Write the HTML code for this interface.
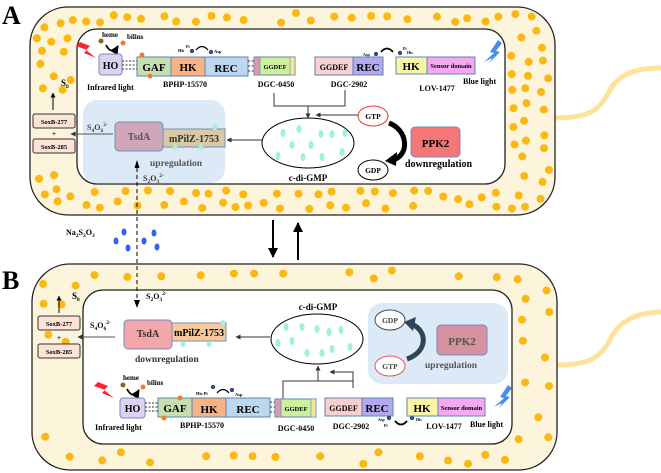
<!DOCTYPE html>
<html><head><meta charset="utf-8"><style>
html,body{margin:0;padding:0;background:#fff;width:661px;height:473px;overflow:hidden}
svg{display:block;font-family:"Liberation Serif",serif;font-weight:bold}
</style></head><body>
<svg id="s" width="661" height="473" viewBox="0 0 661 473" xmlns="http://www.w3.org/2000/svg">
<defs>
<marker id="ar" viewBox="0 0 10 10" refX="9" refY="5" markerWidth="5" markerHeight="5" orient="auto"><path d="M0,0L10,5L0,10z" fill="#000"/></marker>
<marker id="ag" viewBox="0 0 10 10" refX="9" refY="5" markerWidth="5" markerHeight="5" orient="auto"><path d="M0,0L10,5L0,10z" fill="#333"/></marker>
</defs>
<path d="M555,118 C590,118 600,110 610,90 C620,72 640,68 661,68" fill="none" stroke="#fde39a" stroke-width="5"/>
<path d="M557,365 C592,365 602,356 612,336 C622,318 642,312 661,312" fill="none" stroke="#fde39a" stroke-width="5"/>
<rect x="30" y="7" width="525" height="208" rx="38" fill="#fdf4dc" stroke="#222" stroke-width="1.3"/>
<rect x="77" y="29" width="428" height="155" rx="20" fill="#fff" stroke="#222" stroke-width="1.3"/>
<rect x="32" y="264" width="525" height="206" rx="38" fill="#fdf4dc" stroke="#222" stroke-width="1.3"/>
<rect x="83" y="290" width="429" height="154" rx="20" fill="#fff" stroke="#222" stroke-width="1.3"/>
<g id="dots" fill="#fbb812"></g>

<text x="2" y="24" font-size="26">A</text>
<text x="2" y="289" font-size="26">B</text>

<rect x="83" y="100" width="142" height="83" rx="14" fill="#dce9f6"/>
<path d="M80,42 L90,46 L86,50 L96,58 L84,53 L87,50 L76,46z" fill="#f23"/>
<circle cx="101" cy="41" r="2.5" fill="#8b6914"/><circle cx="123" cy="43" r="2.5" fill="#f07c30"/>
<text x="102" y="37" font-size="7">heme</text><text x="127" y="39" font-size="7">bilins</text>
<path d="M106,45 Q112,56 118,46" fill="none" stroke="#000" stroke-width="1.8" marker-end="url(#ar)"/>
<rect x="99" y="54" width="23" height="21" rx="3" fill="#dcd3f3" stroke="#6f8fb8"/>
<text x="110.5" y="69" font-size="10" text-anchor="middle">HO</text>
<g stroke="#333" stroke-dasharray="2,1.5"><line x1="122" y1="61" x2="137" y2="61"/><line x1="122" y1="65" x2="137" y2="65"/><line x1="122" y1="69" x2="137" y2="69"/></g>
<rect x="137" y="57" width="34" height="19" fill="#c6dfb2" stroke="#5b86b0"/>
<rect x="171" y="57" width="34" height="19" fill="#f5b386" stroke="#5b86b0"/>
<rect x="205" y="57" width="43" height="19" fill="#bdd7ee" stroke="#5b86b0"/>
<text x="154" y="71" font-size="11" text-anchor="middle">GAF</text><text x="188" y="71" font-size="11" text-anchor="middle">HK</text><text x="226" y="72" font-size="11" text-anchor="middle">REC</text>
<circle cx="142" cy="55" r="2.5" fill="#f07c30"/><circle cx="150" cy="76" r="2.5" fill="#f07c30"/>
<text x="178" y="52" font-size="4.5">Hb</text><text x="186" y="48" font-size="4">Pi</text>
<circle cx="192" cy="51" r="1.8" fill="#2a5fb0" stroke="#000" stroke-width=".5"/><circle cx="211" cy="52" r="1.8" fill="#2a5fb0" stroke="#000" stroke-width=".5"/>
<path d="M196,50 Q202,43 208,50" fill="none" stroke="#000" stroke-width="1.2"/>
<text x="214" y="53" font-size="4.5">Asp</text>
<g stroke="#333" stroke-dasharray="2,1.5"><line x1="248" y1="61" x2="254" y2="61"/><line x1="248" y1="66" x2="254" y2="66"/><line x1="248" y1="71" x2="254" y2="71"/></g>
<rect x="254" y="57" width="41" height="18" fill="#cdf09c" stroke="#5b86b0"/>
<rect x="254" y="57" width="6" height="18" fill="#d79ab0" stroke="#5b86b0" stroke-width=".6"/>
<rect x="290" y="57" width="5" height="18" fill="#f3e49a" stroke="#5b86b0" stroke-width=".6"/>
<text x="275" y="69" font-size="6.5" text-anchor="middle">GGDEF</text>
<text x="87" y="90" font-size="8">Infrared light</text>
<text x="185" y="87" font-size="8" text-anchor="middle">BPHP-15570</text>
<text x="276" y="87" font-size="8" text-anchor="middle">DGC-0450</text>
<rect x="315" y="57" width="38" height="18" fill="#f8d0cf" stroke="#5b86b0"/>
<rect x="353" y="57" width="30" height="18" fill="#b4a8f0" stroke="#5b86b0"/>
<text x="334" y="70" font-size="8" text-anchor="middle">GGDEF</text><text x="368" y="71" font-size="11" text-anchor="middle">REC</text>
<text x="349" y="87" font-size="8" text-anchor="middle">DGC-2902</text>
<text x="363" y="56" font-size="4">Asp</text><circle cx="376" cy="54" r="1.8" fill="#2a5fb0" stroke="#000" stroke-width=".5"/>
<path d="M381,52 Q387,45 393,52" fill="none" stroke="#000" stroke-width="1.8"/>
<circle cx="400" cy="53" r="1.8" fill="#2a5fb0" stroke="#000" stroke-width=".5"/><text x="403" y="50" font-size="4">Pi</text><text x="407" y="54" font-size="4">His</text>
<rect x="396" y="57" width="31" height="17" fill="#fbf5a6" stroke="#5b86b0"/>
<rect x="427" y="57" width="48" height="17" fill="#f6a8f3" stroke="#5b86b0"/>
<text x="411" y="70" font-size="11" text-anchor="middle">HK</text><text x="451" y="68" font-size="6.5" text-anchor="middle">Sensor domain</text>
<path d="M498,40 L490,52 L494,53 L484,62 L492,58 L489,63 L500,52 L496,51 L502,43z" fill="#4a8ee6"/>
<text x="437" y="91" font-size="8" text-anchor="middle">LOV-1477</text>
<text x="463" y="84" font-size="8">Blue light</text>
<polyline points="274,93 274,106 345,106 345,90" fill="none" stroke="#333" stroke-width="1"/>
<line x1="308" y1="106" x2="308" y2="118" stroke="#333" marker-end="url(#ag)"/>
<line x1="358" y1="115" x2="316" y2="115" stroke="#333" marker-end="url(#ag)"/>
<ellipse cx="308" cy="143" rx="46" ry="25" fill="#fff" stroke="#000"/>
<g fill="#9ef2d9"><ellipse cx="299" cy="129" rx="2.5" ry="4"/><ellipse cx="321" cy="134" rx="2.5" ry="4"/><ellipse cx="332" cy="134" rx="2.5" ry="4"/><ellipse cx="311" cy="145" rx="2.5" ry="4"/><ellipse cx="292" cy="145" rx="2.5" ry="4"/><ellipse cx="303" cy="157" rx="2.5" ry="4"/><ellipse cx="322" cy="157" rx="2.5" ry="4"/><ellipse cx="342" cy="152" rx="2.5" ry="4"/><ellipse cx="283" cy="133" rx="2.5" ry="4"/><ellipse cx="278" cy="156" rx="2.5" ry="4"/><ellipse cx="345" cy="133" rx="2.5" ry="4"/></g>
<text x="308" y="181" font-size="9" text-anchor="middle">c-di-GMP</text>
<ellipse cx="373" cy="116" rx="15" ry="10" fill="#fff" stroke="#e33"/>
<text x="373" y="119" font-size="7.5" text-anchor="middle">GTP</text>
<ellipse cx="373" cy="170" rx="15" ry="10" fill="#fff" stroke="#000"/>
<text x="373" y="173" font-size="7.5" text-anchor="middle">GDP</text>
<path d="M389,123 C408,130 410,155 393,160" fill="none" stroke="#000" stroke-width="5"/>
<path d="M385,161 L397,152 L396,166z" fill="#000"/>
<rect x="411" y="127" width="49" height="30" rx="4" fill="#f47676" stroke="#6f8fb8"/>
<text x="435.5" y="147" font-size="11" text-anchor="middle">PPK2</text>
<text x="405" y="167" font-size="10">downregulation</text>
<rect x="115" y="122" width="48" height="29" rx="4" fill="#cfa6ba" stroke="#6f8fb8"/>
<rect x="163" y="129" width="62" height="18" fill="#d9c9a5" stroke="#6f8fb8"/>
<text x="139" y="140" font-size="10" text-anchor="middle" fill="#555">TsdA</text>
<text x="194" y="142" font-size="10" text-anchor="middle" fill="#333">mPilZ-1753</text>
<g fill="#a8efdc"><ellipse cx="215" cy="127" rx="2.5" ry="3"/><ellipse cx="175" cy="147" rx="2.5" ry="3"/><ellipse cx="201" cy="147" rx="2.5" ry="3"/></g>
<text x="150" y="166" font-size="9.5" fill="#555">upregulation</text>
<line x1="262" y1="140" x2="227" y2="140" stroke="#333" marker-end="url(#ag)"/>
<text x="87" y="130" font-size="8" fill="#444">S<tspan font-size="5.5" dy="2">4</tspan><tspan dy="-2">O</tspan><tspan font-size="5.5" dy="2">6</tspan><tspan font-size="5.5" dy="-6">2-</tspan></text>
<line x1="113" y1="134" x2="71" y2="134" stroke="#555" marker-end="url(#ag)"/>
<rect x="33" y="114" width="42" height="14" rx="2" fill="#fde3d6" stroke="#333"/>
<rect x="33" y="139" width="42" height="14" rx="2" fill="#fde3d6" stroke="#333"/>
<text x="54" y="124" font-size="6.5" text-anchor="middle">SoxB-277</text><text x="54" y="136" font-size="7" text-anchor="middle">+</text><text x="54" y="149" font-size="6.5" text-anchor="middle">SoxB-285</text>
<line x1="53" y1="110" x2="53" y2="93" stroke="#000" marker-end="url(#ar)"/>
<text x="61" y="86" font-size="9">S<tspan font-size="5.5" dy="2">8</tspan></text>
<text x="143" y="181" font-size="8" fill="#333">S<tspan font-size="5.5" dy="2">2</tspan><tspan dy="-2">O</tspan><tspan font-size="5.5" dy="2">3</tspan><tspan font-size="5.5" dy="-6">2-</tspan></text>
<line x1="137" y1="305" x2="137" y2="161" stroke="#000" stroke-dasharray="4,3"/>
<path d="M134.5,168 L137,160 L139.5,168z" fill="#000"/>
<path d="M134,300 L137,308 L140,300z" fill="#000"/>
<text x="66" y="235" font-size="8">Na<tspan font-size="5.5" dy="2">2</tspan><tspan dy="-2">S</tspan><tspan font-size="5.5" dy="2">2</tspan><tspan dy="-2">O</tspan><tspan font-size="5.5" dy="2">3</tspan></text>
<g fill="#2e62f0"><ellipse cx="124" cy="232" rx="2.5" ry="3.5"/><ellipse cx="154" cy="233" rx="2.5" ry="3.5"/><ellipse cx="116" cy="241" rx="2.5" ry="3.5"/><ellipse cx="128" cy="248" rx="2.5" ry="3.5"/><ellipse cx="144" cy="241" rx="2.5" ry="3.5"/><ellipse cx="157" cy="247" rx="2.5" ry="3.5"/></g>
<line x1="273" y1="220" x2="273" y2="257" stroke="#000" stroke-width="2" marker-end="url(#ar)"/>
<line x1="298" y1="260" x2="298" y2="223" stroke="#000" stroke-width="2" marker-end="url(#ar)"/>

<rect x="368" y="303" width="140" height="81" rx="14" fill="#dce9f6"/>
<text x="72" y="299" font-size="9">S<tspan font-size="5.5" dy="2">8</tspan></text>
<line x1="59" y1="313" x2="59" y2="296" stroke="#000" marker-end="url(#ar)"/>
<rect x="38" y="316" width="42" height="14" rx="2" fill="#fde3d6" stroke="#333"/>
<rect x="38" y="344" width="42" height="14" rx="2" fill="#fde3d6" stroke="#333"/>
<text x="59" y="326" font-size="6.5" text-anchor="middle">SoxB-277</text><text x="59" y="340" font-size="7" text-anchor="middle">+</text><text x="59" y="354" font-size="6.5" text-anchor="middle">SoxB-285</text>
<text x="90" y="328" font-size="8">S<tspan font-size="5.5" dy="2">4</tspan><tspan dy="-2">O</tspan><tspan font-size="5.5" dy="2">6</tspan><tspan font-size="5.5" dy="-6">2-</tspan></text>
<line x1="115" y1="337" x2="78" y2="337" stroke="#555" marker-end="url(#ag)"/>
<text x="146" y="299" font-size="8">S<tspan font-size="5.5" dy="2">2</tspan><tspan dy="-2">O</tspan><tspan font-size="5.5" dy="2">3</tspan><tspan font-size="5.5" dy="-6">2-</tspan></text>
<rect x="124" y="320" width="48" height="29" rx="4" fill="#f4a7ab" stroke="#6f8fb8"/>
<rect x="172" y="323" width="54" height="18" fill="#f8c99b" stroke="#6f8fb8"/>
<text x="148" y="337" font-size="10" text-anchor="middle" fill="#333">TsdA</text>
<text x="199" y="336" font-size="10" text-anchor="middle">mPilZ-1753</text>
<g fill="#a8efdc"><ellipse cx="223" cy="323" rx="2.5" ry="3"/><ellipse cx="183" cy="344" rx="2.5" ry="3"/><ellipse cx="209" cy="344" rx="2.5" ry="3"/></g>
<text x="135" y="362" font-size="9.5" fill="#333">downregulation</text>
<line x1="270" y1="337" x2="236" y2="337" stroke="#333" marker-end="url(#ag)"/>
<ellipse cx="317" cy="339" rx="46" ry="25" fill="#fff" stroke="#000"/>
<g fill="#9ef2d9"><ellipse cx="302" cy="327" rx="2.5" ry="4"/><ellipse cx="317" cy="329" rx="2.5" ry="4"/><ellipse cx="329" cy="332" rx="2.5" ry="4"/><ellipse cx="341" cy="330" rx="2.5" ry="4"/><ellipse cx="292" cy="341" rx="2.5" ry="4"/><ellipse cx="307" cy="353" rx="2.5" ry="4"/><ellipse cx="322" cy="353" rx="2.5" ry="4"/><ellipse cx="332" cy="349" rx="2.5" ry="4"/><ellipse cx="350" cy="347" rx="2.5" ry="4"/><ellipse cx="278" cy="343" rx="2.5" ry="4"/><ellipse cx="286" cy="327" rx="2.5" ry="4"/></g>
<text x="318" y="310" font-size="9" text-anchor="middle">c-di-GMP</text>
<ellipse cx="390" cy="320" rx="15" ry="10" fill="#fff" stroke="#3a4a5a"/>
<text x="390" y="323" font-size="7.5" text-anchor="middle" fill="#444">GDP</text>
<ellipse cx="390" cy="366" rx="15" ry="10" fill="#fff" stroke="#e55"/>
<text x="390" y="369" font-size="7.5" text-anchor="middle" fill="#444">GTP</text>
<path d="M407,359 C428,352 428,330 411,324" fill="none" stroke="#2f4454" stroke-width="5"/>
<path d="M404,322 L416,317 L413,331z" fill="#2f4454"/>
<rect x="437" y="325" width="50" height="30" rx="4" fill="#d4939f" stroke="#6f8fb8"/>
<text x="462" y="345" font-size="11" text-anchor="middle" fill="#555">PPK2</text>
<text x="425" y="368" font-size="9.5" fill="#555">upregulation</text>
<polyline points="283,400 283,381 353,381 353,388" fill="none" stroke="#333"/>
<line x1="318" y1="381" x2="318" y2="366" stroke="#333" marker-end="url(#ag)"/>
<polyline points="353,388 353,372 330,372" fill="none" stroke="#333" marker-end="url(#ag)"/>
<path d="M98,382 L108,386 L104,390 L114,398 L102,393 L105,390 L94,386z" fill="#f23"/>
<circle cx="123" cy="385" r="2.5" fill="#8b6914"/><circle cx="143" cy="387" r="2.5" fill="#f07c30"/>
<text x="123" y="380" font-size="7">heme</text><text x="147" y="385" font-size="7">bilins</text>
<path d="M127,389 Q133,400 139,390" fill="none" stroke="#000" stroke-width="1.8" marker-end="url(#ar)"/>
<rect x="120" y="398" width="25" height="20" rx="3" fill="#dcd3f3" stroke="#6f8fb8"/>
<text x="132.5" y="412" font-size="10" text-anchor="middle">HO</text>
<g stroke="#333" stroke-dasharray="2,1.5"><line x1="145" y1="403" x2="158" y2="403"/><line x1="145" y1="407" x2="158" y2="407"/><line x1="145" y1="411" x2="158" y2="411"/></g>
<rect x="158" y="398" width="34" height="19" fill="#c6dfb2" stroke="#5b86b0"/>
<rect x="192" y="398" width="34" height="19" fill="#f5b386" stroke="#5b86b0"/>
<rect x="226" y="398" width="44" height="19" fill="#bdd7ee" stroke="#5b86b0"/>
<text x="175" y="412" font-size="11" text-anchor="middle">GAF</text><text x="209" y="413" font-size="11" text-anchor="middle">HK</text><text x="248" y="413" font-size="11" text-anchor="middle">REC</text>
<circle cx="180" cy="398" r="2.5" fill="#f07c30"/><circle cx="164" cy="418" r="2.5" fill="#f07c30"/>
<text x="196" y="395" font-size="4.5">His Pi</text>
<circle cx="213" cy="387" r="1.8" fill="#2a5fb0" stroke="#000" stroke-width=".5"/><circle cx="232" cy="390" r="1.8" fill="#2a5fb0" stroke="#000" stroke-width=".5"/>
<path d="M217,393 Q223,386 229,393" fill="none" stroke="#000" stroke-width="1.2"/>
<text x="235" y="396" font-size="4.5">Asp</text>
<g stroke="#333" stroke-dasharray="2,1.5"><line x1="270" y1="402" x2="275" y2="402"/><line x1="270" y1="407" x2="275" y2="407"/><line x1="270" y1="412" x2="275" y2="412"/></g>
<rect x="275" y="399" width="41" height="18" fill="#cdf09c" stroke="#5b86b0"/>
<rect x="275" y="399" width="6" height="18" fill="#d79ab0" stroke="#5b86b0" stroke-width=".6"/>
<rect x="311" y="399" width="5" height="18" fill="#f3e49a" stroke="#5b86b0" stroke-width=".6"/>
<text x="296" y="411" font-size="6.5" text-anchor="middle">GGDEF</text>
<text x="95" y="430" font-size="8">Infrared light</text>
<text x="202" y="428" font-size="8" text-anchor="middle">BPHP-15570</text>
<text x="296" y="431" font-size="8" text-anchor="middle">DGC-0450</text>
<rect x="325" y="398" width="37" height="18" fill="#f8d0cf" stroke="#5b86b0"/>
<rect x="362" y="398" width="31" height="18" fill="#b4a8f0" stroke="#5b86b0"/>
<text x="343.5" y="411" font-size="8" text-anchor="middle">GGDEF</text><text x="377" y="412" font-size="11" text-anchor="middle">REC</text>
<text x="351" y="429" font-size="8" text-anchor="middle">DGC-2902</text>
<circle cx="389" cy="418" r="1.8" fill="#2a5fb0" stroke="#000" stroke-width=".5"/><text x="378" y="421" font-size="4">Asp</text><text x="384" y="427" font-size="4">Pi</text>
<path d="M395,421 Q401,428 407,421" fill="none" stroke="#000" stroke-width="1.8"/>
<circle cx="412" cy="418" r="1.8" fill="#2a5fb0" stroke="#000" stroke-width=".5"/><text x="416" y="421" font-size="4">His</text>
<rect x="407" y="398" width="31" height="18" fill="#fbf5a6" stroke="#5b86b0"/>
<rect x="438" y="398" width="47" height="18" fill="#f6a8f3" stroke="#5b86b0"/>
<text x="422" y="412" font-size="11" text-anchor="middle">HK</text><text x="461.5" y="410" font-size="6.5" text-anchor="middle">Sensor domain</text>
<path d="M508,385 L500,397 L504,398 L494,407 L502,403 L499,408 L510,397 L506,396 L512,388z" fill="#4a8ee6"/>
<text x="444" y="429" font-size="8" text-anchor="middle">LOV-1477</text>
<text x="470" y="427" font-size="8">Blue light</text>
</svg>
<script>
(function(){
var g=document.getElementById('dots');var seed=11;function r(){seed=(seed*16807)%2147483647;return seed/2147483647;}
function fill(ox,oy,ow,oh,ix,iy,iw,ih,n,sp){var c=0,t=0,pts=[];while(c<n&&t<40000){t++;var x=ox+6+r()*(ow-12),y=oy+6+r()*(oh-12);
if(x>ix-6&&x<ix+iw+6&&y>iy-6&&y<iy+ih+6)continue;
var rr=34,cx=Math.min(Math.max(x,ox+rr),ox+ow-rr),cy=Math.min(Math.max(y,oy+rr),oy+oh-rr);if(Math.hypot(x-cx,y-cy)>rr-6)continue;
if(x<ix-4&&y>oy+oh*0.4&&y<oy+oh*0.8)continue;
var ok=true;for(var k=0;k<pts.length;k++){if(Math.hypot(pts[k][0]-x,pts[k][1]-y)<sp){ok=false;break;}}if(!ok)continue;
pts.push([x,y]);c++;var e=document.createElementNS('http://www.w3.org/2000/svg','circle');e.setAttribute('cx',x.toFixed(1));e.setAttribute('cy',y.toFixed(1));e.setAttribute('r','4');g.appendChild(e);}}
fill(30,7,525,208,77,29,428,155,115,12);
fill(32,264,525,206,83,290,429,154,48,18);
})();
</script>
</body></html>
